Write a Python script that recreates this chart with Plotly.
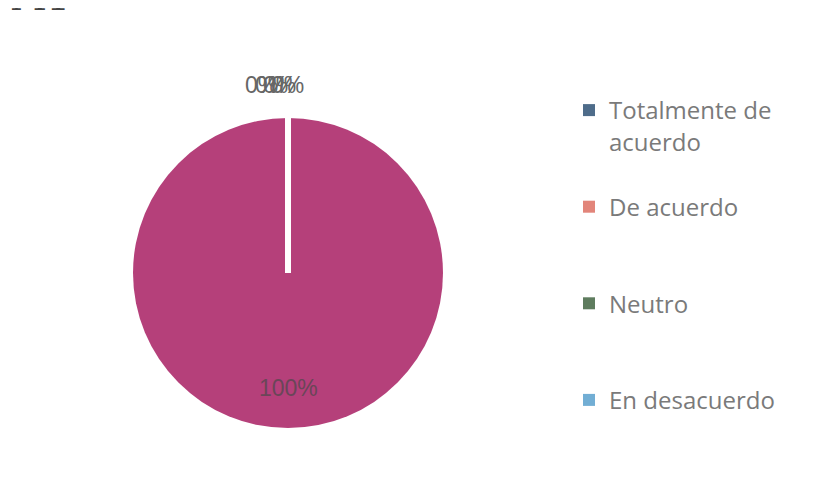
import math
import plotly.graph_objects as go

# ---- data ----
categories = ["Totalmente de acuerdo", "De acuerdo", "Neutro", "En desacuerdo",
              "Totalmente en desacuerdo"]
values = [0, 0, 0, 0, 100]
colors = ["#4E6C8A", "#E2857A", "#5E7C5E", "#72AED4", "#B5407A"]
title_text = "M1"

# ---- geometry (pixels, page shows an 8px body offset) ----
W, H = 816, 493
OFF = 8
CX, CY, R = 288 - OFF, 273 - OFF, 155
dom_x = [(CX - R) / W, (CX + R) / W]
dom_y = [(H - CY - R) / H, (H - CY + R) / H]

# legend text layout (wrapping + spacing); the last item falls below the visible area
legend_labels = ["Totalmente de<br>acuerdo<br> ", "De acuerdo<br> <br> ",
                 "Neutro<br> <br> ", "En desacuerdo<br> <br> <br> ",
                 "Totalmente en<br>desacuerdo"]

fig = go.Figure()
fig.add_trace(go.Pie(
    labels=legend_labels, values=values, sort=False,
    direction="clockwise", rotation=0,
    marker=dict(colors=colors, line=dict(color="white", width=0)),
    textinfo="none", hoverinfo="label+percent",
    domain=dict(x=dom_x, y=dom_y), showlegend=True,
))

# percentage labels computed from the values
total = sum(values)
annotations = []
cum = 0
zero_spread = [-27, -17, -9, -1]
zi = 0
for v in values:
    frac = v / total
    mid = (cum + frac / 2) * 2 * math.pi
    cum += frac
    txt = f"{round(frac * 100)}%"
    if v == 0:
        rr = R + 33
        px = CX + rr * math.sin(mid) + zero_spread[zi % len(zero_spread)]
        zi += 1
        col = "#666666"
    else:
        rr = 0.74 * R
        px = CX + rr * math.sin(mid)
        col = "#6A4658"
    py = CY - rr * math.cos(mid)
    annotations.append(dict(text=txt, x=px / W, y=1 - py / H, xref="paper", yref="paper",
                            showarrow=False, xanchor="center", yanchor="middle",
                            font=dict(size=23, family="Liberation Sans", color=col)))

annotations.append(dict(text=title_text, x=0 / W, y=1 + 10 / H, xref="paper", yref="paper",
                        xanchor="left", yanchor="middle", showarrow=False,
                        font=dict(size=36, family="DejaVu Serif", color="#444444")))

# white border at the slices' common starting edge (12 o'clock)
shapes = [dict(type="line", xref="paper", yref="paper",
               x0=CX / W, x1=CX / W, y0=1 - CY / H, y1=1 - (CY - R) / H,
               line=dict(color="white", width=6))]

fig.update_layout(
    width=W, height=H,
    margin=dict(l=0, r=0, t=0, b=0, autoexpand=False),
    paper_bgcolor="white", plot_bgcolor="white",
    font=dict(family="Open Sans", color="#7A7A7A", size=24),
    legend=dict(x=(569 - OFF) / W, y=1 - (88 - OFF) / H, xanchor="left", yanchor="top",
                valign="top", itemwidth=30, maxheight=2000,
                font=dict(size=24, color="#7A7A7A", family="Open Sans")),
    annotations=annotations,
    shapes=shapes,
)
fig.write_html("out.html")
